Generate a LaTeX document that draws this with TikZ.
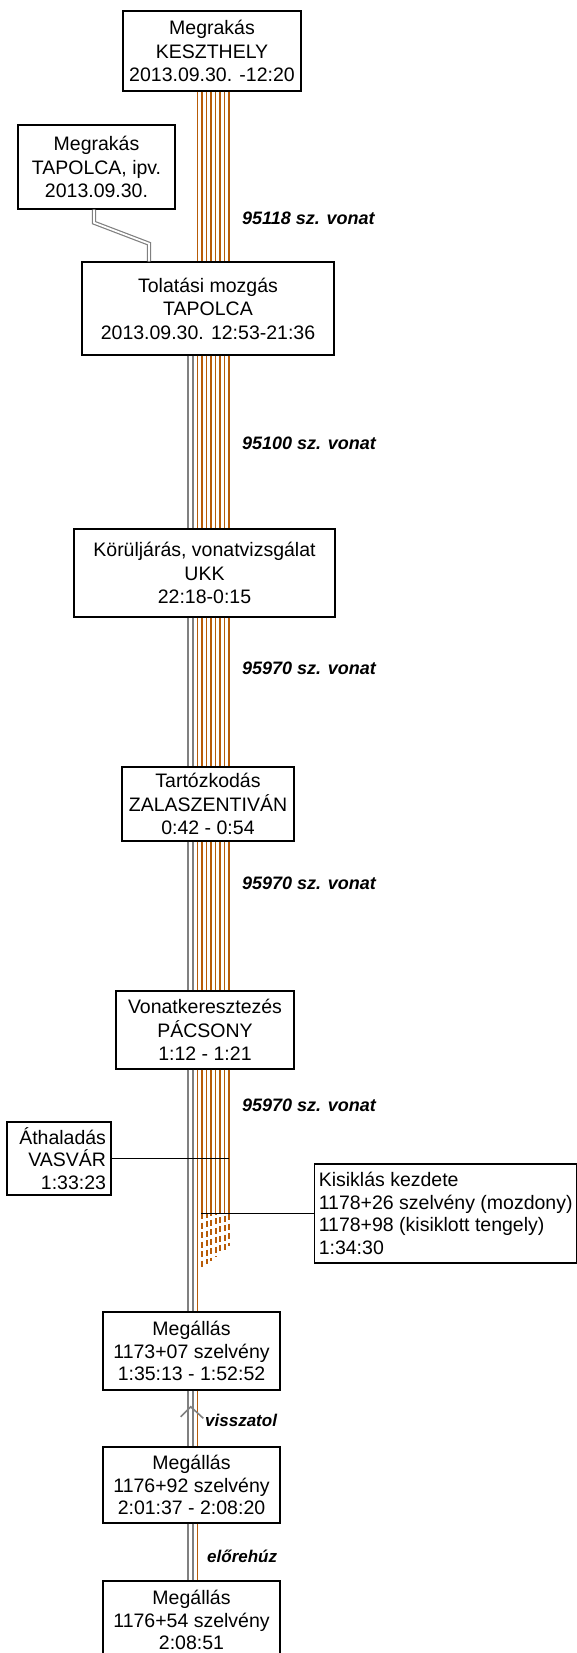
\documentclass[tikz,border=0pt]{standalone}
\usepackage{fontspec}
\setmainfont{Liberation Sans}
\definecolor{rail}{RGB}{184,92,8}
\definecolor{loco}{RGB}{128,128,128}
\begin{document}
\begin{tikzpicture}[x=1pt,y=-1pt,
  box/.style={draw,line width=1.4pt,fill=white,inner sep=0pt,align=center,
    font=\fontsize{19.5}{23.5}\selectfont},
  lab/.style={anchor=west,inner sep=0pt,font=\fontsize{18}{20}\selectfont\bfseries\itshape},
  smalllab/.style={anchor=west,inner sep=0pt,font=\fontsize{17}{20}\selectfont\bfseries\itshape},
  brownln/.style={draw=rail,line width=1.6pt},
  grayln/.style={draw=loco,line width=2pt},
  dbl/.style={draw=loco,line width=1.2pt,double=white,double distance=1.8pt},
  pointer/.style={draw=black,line width=1.5pt}
]
\useasboundingbox (0,0) rectangle (577,1653);
\clip (0,0) rectangle (577,1653);

% boxes
\node[box,minimum width=178,minimum height=80] (b1) at (212,51) {Megrakás\\KESZTHELY\\2013.09.30. -12:20};
\node[box,minimum width=157,minimum height=84] (b2) at (96.5,167) {Megrakás\\TAPOLCA, ipv.\\2013.09.30.};
\node[box,minimum width=252,minimum height=93] (b3) at (208,308.5) {Tolatási mozgás\\TAPOLCA\\2013.09.30. 12:53-21:36};
\node[box,minimum width=261,minimum height=88] (b4) at (204.5,573) {Körüljárás, vonatvizsgálat\\UKK\\22:18-0:15};
\node[box,minimum width=172,minimum height=74] (b5) at (208,804) {Tartózkodás\\ZALASZENTIVÁN\\0:42 - 0:54};
\node[box,minimum width=178,minimum height=78] (b6) at (205,1030) {Vonatkeresztezés\\PÁCSONY\\1:12 - 1:21};
\node[box,align=right,text width=94,inner xsep=5,minimum height=73,
  font=\fontsize{19.5}{22.5}\selectfont] (va) at (59,1158.5) {Áthaladás\\VASVÁR\\1:33:23};
\node[box,align=left,minimum width=262,minimum height=99,anchor=west,
  font=\fontsize{19.5}{22.5}\selectfont] (ki) at (314,1213.5)
  {Kisiklás kezdete\\1178+26 szelvény (mozdony)\\1178+98 (kisiklott tengely)\\1:34:30};
\node[box,minimum width=177,minimum height=78,font=\fontsize{19.5}{22.5}\selectfont] (m1) at (191.5,1351) {Megállás\\1173+07 szelvény\\1:35:13 - 1:52:52};
\node[box,minimum width=177,minimum height=76,font=\fontsize{19.5}{22.5}\selectfont] (m2) at (191.5,1485) {Megállás\\1176+92 szelvény\\2:01:37 - 2:08:20};
\node[box,minimum width=177,minimum height=78,font=\fontsize{19.5}{22.5}\selectfont] (m3) at (191.5,1620) {Megállás\\1176+54 szelvény\\2:08:51};

% labels
\node[lab] (l1) at (242,218) {95118 sz. vonat};
\node[lab] (l2) at (242,443) {95100 sz. vonat};
\node[lab] (l3) at (242,668) {95970 sz. vonat};
\node[lab] (l4) at (242,883) {95970 sz. vonat};
\node[lab] (l5) at (242,1105) {95970 sz. vonat};
\node[smalllab] (l6) at (205,1420) {visszatol};
\node[smalllab] (l7) at (207,1556) {előrehúz};

% track x positions
\foreach \x [count=\i] in {197.5,202,206.5,211,215.5,220,224.5,229}
  \coordinate (r\i) at (\x,0);
\coordinate (g1) at (187.5,0);
\coordinate (g2) at (192.5,0);
\coordinate (kd) at (0,1213);

% brown wagons
\foreach \i in {1,...,8} {
  \draw[brownln] (r\i |- b1.south) -- (r\i |- b3.north);
  \draw[brownln] (r\i |- b3.south) -- (r\i |- b4.north);
  \draw[brownln] (r\i |- b4.south) -- (r\i |- b5.north);
  \draw[brownln] (r\i |- b5.south) -- (r\i |- b6.north);
}
\draw[brownln] (r1 |- b6.south) -- (r1 |- m1.north);
\draw[brownln] (r1 |- m1.south) -- (r1 |- m2.north);
\draw[brownln] (r1 |- m2.south) -- (r1 |- m3.north);
\foreach \i in {2,...,8} {
  \draw[brownln] (r\i |- b6.south) -- (r\i |- kd);
  \pgfmathsetmacro\len{55-(\i-2)*3.6}
  \pgfmathsetmacro\ph{(\i-2)*1.4}
  \draw[draw=rail,line width=2pt,dash pattern=on 6pt off 3.5pt,dash phase={\ph pt}]
    (r\i |- kd) -- ++(0,\len);
}

% grey locomotive
\foreach \g in {g1,g2} {
  \draw[grayln] (\g |- b3.south) -- (\g |- b4.north);
  \draw[grayln] (\g |- b4.south) -- (\g |- b5.north);
  \draw[grayln] (\g |- b5.south) -- (\g |- b6.north);
  \draw[grayln] (\g |- b6.south) -- (\g |- m1.north);
  \draw[grayln] (\g |- m1.south) -- (\g |- m2.north);
  \draw[grayln] (\g |- m2.south) -- (\g |- m3.north);
}
\draw[dbl] ([xshift=-2.5pt]b2.south) -- ++(0,13) -- ++(55,21) -- ([xshift=-59pt]b3.north);

% pointers
\draw[pointer] (va.east) -- (r8 |- va.east);
\draw[pointer] (ki.west) -- ([xshift=-1.5pt]r2 |- ki.west);

% direction chevron
\draw[loco,line width=1.6pt] (180.7,1416.7) -- (190.7,1406.7) -- (203.3,1418.3);
\end{tikzpicture}
\end{document}
